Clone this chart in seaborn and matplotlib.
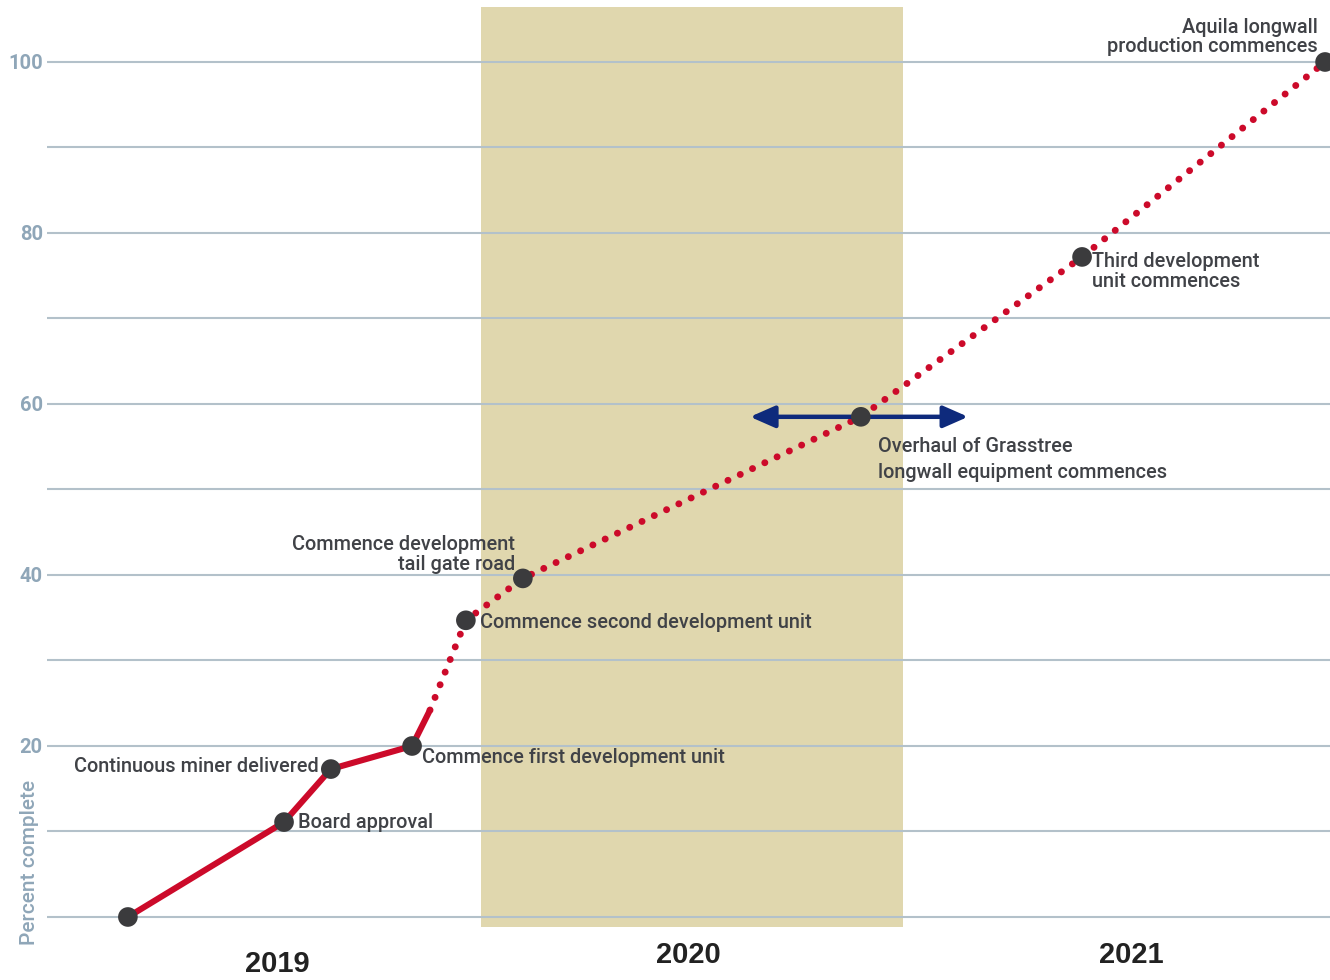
import matplotlib
matplotlib.use("Agg")
import matplotlib.pyplot as plt
import seaborn as sns
import pandas as pd
from matplotlib.font_manager import fontManager

# Timeline in months from January 2019; progress in percent complete
milestone_month = [1.96, 6.40, 7.73, 10.04, 11.57, 13.19, 22.80, 29.09, 36.0]
milestone_pct = [0.0, 11.1, 17.3, 20.0, 34.7, 39.6, 58.5, 77.2, 100.0]
milestone_label = [
    "",
    "Board approval",
    "Continuous miner delivered",
    "Commence first development unit",
    "Commence second development unit",
    "Commence development\ntail gate road",
    "Overhaul of Grasstree\nlongwall equipment commences",
    "Third development\nunit commences",
    "Aquila longwall\nproduction commences",
]
# completed (solid) part runs a little past the last achieved milestone
actual_end_month = 10.55
actual_end_pct = 24.2
year_labels = ["2019", "2020", "2021"]
year_centre = [6.2, 17.9, 30.5]
shade_span = [12.0, 24.0]
overhaul_window = [19.65, 25.85]
y_ticks = [20, 40, 60, 80, 100]

RED = "#cc0a2a"
DOT = "#3b3b3d"
TXT = "#404247"
AXIS_TXT = "#8fa6b8"
GRID = "#b3c1ca"
NAVY = "#0e2a7c"
SAND = "#e0d7ae"

sns.set_theme(style="white")
names = {f.name for f in fontManager.ttflist}
main_font = "Roboto" if "Roboto" in names else "DejaVu Sans"
plt.rcParams["font.family"] = [main_font, "DejaVu Sans"]

W, H = 1330, 980
fig = plt.figure(figsize=(W / 100, H / 100), dpi=100)
ax = fig.add_axes([47 / W, 0, (W - 47) / W, 1])
ax.set_xlim(-0.34, 36.14)
ax.set_ylim(-7.37, 107.25)
for s in ax.spines.values():
    s.set_visible(False)

# 2020 band
ax.fill_between(shade_span, -1.2, 106.4, color=SAND, lw=0, zorder=0)

# horizontal grid every 10 percent
for g in range(0, 101, 10):
    ax.axhline(g, color=GRID, lw=1.5, zorder=1)

n_done = 4
solid = pd.DataFrame({
    "month": milestone_month[:n_done] + [actual_end_month],
    "pct": milestone_pct[:n_done] + [actual_end_pct],
})
planned = pd.DataFrame({
    "month": [actual_end_month] + milestone_month[n_done:],
    "pct": [actual_end_pct] + milestone_pct[n_done:],
})
sns.lineplot(data=solid, x="month", y="pct", ax=ax, color=RED, lw=4.4,
             sort=False, estimator=None, zorder=3, solid_capstyle="butt")
sns.lineplot(data=planned, x="month", y="pct", ax=ax, color=RED, lw=5.0,
             sort=False, estimator=None, zorder=3)
ln = ax.lines[-1]
ln.set_dashes([0.01, 1.95])
ln.set_dash_capstyle("round")

# overhaul window arrow
ax.annotate("", xy=(overhaul_window[0], milestone_pct[6]),
            xytext=(overhaul_window[1], milestone_pct[6]),
            arrowprops=dict(arrowstyle="<|-|>,head_length=1.25,head_width=0.55",
                            color=NAVY, lw=3.2, shrinkA=0, shrinkB=0),
            zorder=4)

pts = pd.DataFrame({"month": milestone_month, "pct": milestone_pct})
sns.scatterplot(data=pts, x="month", y="pct", ax=ax, color=DOT, s=200,
                edgecolor="none", zorder=5, clip_on=False)

fs = 14.3
lab = dict(color=TXT, fontsize=fs, zorder=6, fontweight="medium")
ax.text(7.38, milestone_pct[2] + 0.3, milestone_label[2], ha="right", va="center", **lab)
ax.text(6.79, milestone_pct[1] - 0.05, milestone_label[1], ha="left", va="center", **lab)
ax.text(10.32, 18.6, milestone_label[3], ha="left", va="center", **lab)
ax.text(11.97, 34.4, milestone_label[4], ha="left", va="center", **lab)
ax.text(12.97, 42.4, milestone_label[5], ha="right", va="center",
        linespacing=1.02, **lab)
ax.text(23.3, 53.5, milestone_label[6], ha="left", va="center",
        linespacing=1.45, **lab)
ax.text(29.37, 75.5, milestone_label[7], ha="left", va="center",
        linespacing=1.02, **lab)
ax.text(35.8, 102.9, milestone_label[8], ha="right", va="center",
        linespacing=1.02, **lab)

# year labels under the axis
for yl, xc in zip(year_labels, year_centre):
    yy = -5.55 if yl == "2019" else -4.5
    ax.text(xc, yy, yl, ha="center", va="center", fontsize=21,
            fontweight="bold", color="#222222", family=["Liberation Sans", "DejaVu Sans"])

ax.set_xticks([])
ax.set_yticks(y_ticks)
ax.set_yticklabels([str(t) for t in y_ticks], color=AXIS_TXT, fontsize=14.5,
                   fontweight="bold")
ax.tick_params(axis="y", length=0, pad=3)
ax.set_xlabel("")
ax.set_ylabel("")
fig.text(30 / W, 1 - 862 / H, "Percent complete", rotation=90, ha="center",
         va="center", color=AXIS_TXT, fontsize=15, fontweight="medium")

fig.savefig("out.png", dpi=100)
